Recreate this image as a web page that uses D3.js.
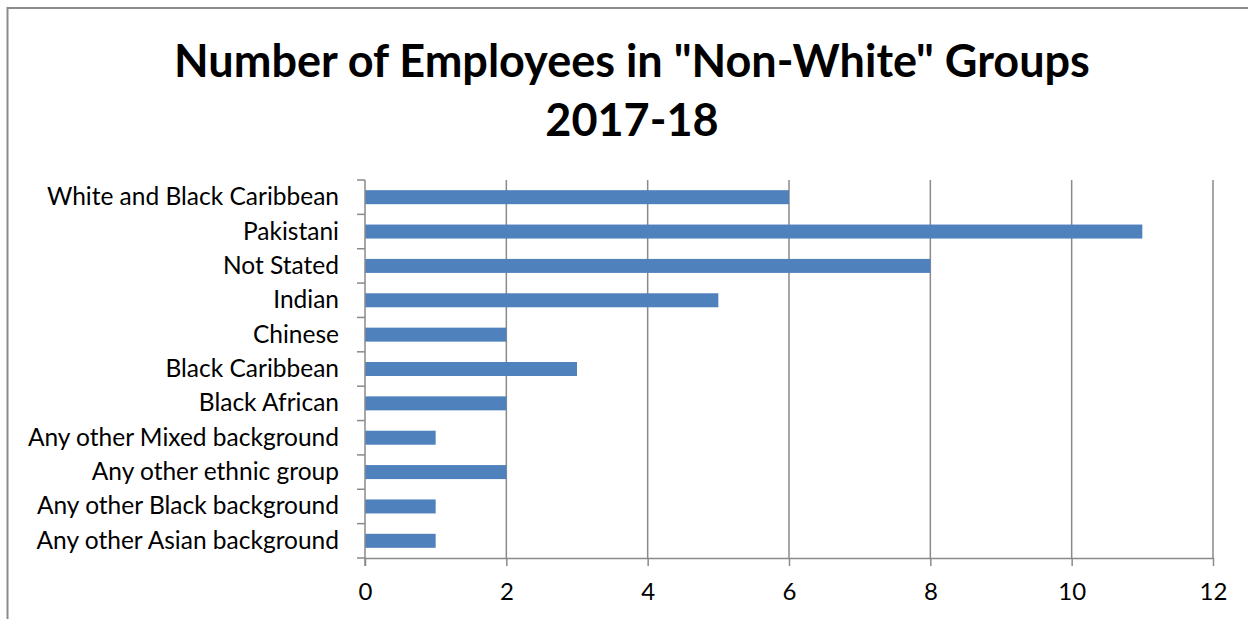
<!DOCTYPE html>
<html><head><meta charset="utf-8">
<script src="https://cdn.jsdelivr.net/npm/d3@7"></script>
<style>body{margin:0;background:#fff}svg{display:block}</style>
</head><body>
<svg id="c" width="1248" height="619"></svg>
<script>
const categories = ["White and Black Caribbean","Pakistani","Not Stated","Indian","Chinese","Black Caribbean","Black African","Any other Mixed background","Any other ethnic group","Any other Black background","Any other Asian background"];
const values = [6,11,8,5,2,3,2,1,2,1,1];
const xTicks = [0,2,4,6,8,10,12];
const titleLines = ['Number of Employees in "Non-White" Groups','2017-18'];

const svg = d3.select("#c");
const font = "Lato, 'Open Sans', sans-serif";
svg.append("rect").attr("x",7.5).attr("y",8).attr("width",1260).attr("height",640)
  .attr("fill","#fff").attr("stroke","#8c8c8c").attr("stroke-width",2);

const L=365, R=1213, T=180, B=558;
const x = d3.scaleLinear().domain([0,12]).range([L,R]);
const y = d3.scaleBand().domain(categories).range([T,B]);

// gridlines
svg.append("g").selectAll("line").data(xTicks.slice(1)).join("line")
  .attr("x1",d=>x(d)).attr("x2",d=>x(d)).attr("y1",T).attr("y2",B)
  .attr("stroke","#8a8a8a").attr("stroke-width",1.5);

// bars
const bh = 14;
svg.append("g").selectAll("rect").data(categories).join("rect")
  .attr("x",x(0)).attr("y",(d)=>y(d)+y.bandwidth()/2-bh/2)
  .attr("width",(d,i)=>x(values[i])-x(0)).attr("height",bh)
  .attr("fill","#4f81bd");

// x axis
const xa = svg.append("g").attr("transform",`translate(0,${B})`)
  .call(d3.axisBottom(x).tickValues(xTicks).tickSize(8).tickPadding(17).tickSizeOuter(0));
xa.select(".domain").attr("stroke","#8a8a8a").attr("stroke-width",1.5);
xa.selectAll(".tick line").attr("stroke","#8a8a8a").attr("stroke-width",1.5);
xa.selectAll("text").attr("font-family",font).attr("font-size",24).attr("fill","#000");

// y axis
const yTickPos = d3.range(categories.length+1).map(i=>T+i*y.step());
svg.append("line").attr("x1",L).attr("x2",L).attr("y1",T).attr("y2",B+8)
  .attr("stroke","#8a8a8a").attr("stroke-width",1.5);
svg.append("g").selectAll("line").data(yTickPos).join("line")
  .attr("x1",L-8).attr("x2",L).attr("y1",d=>d).attr("y2",d=>d)
  .attr("stroke","#8a8a8a").attr("stroke-width",1.5);
svg.append("g").selectAll("text").data(categories).join("text")
  .attr("x",339).attr("y",d=>y(d)+y.bandwidth()/2+8)
  .attr("text-anchor","end").attr("font-family",font).attr("font-size",24.5).attr("fill","#000")
  .text(d=>d);

// title
svg.append("g").selectAll("text").data(titleLines).join("text")
  .attr("x",632).attr("y",(d,i)=>77+i*59).attr("text-anchor","middle")
  .attr("font-family",font).attr("font-weight","bold").attr("font-size",45).attr("fill","#000")
  .text(d=>d);
</script>
</body></html>
